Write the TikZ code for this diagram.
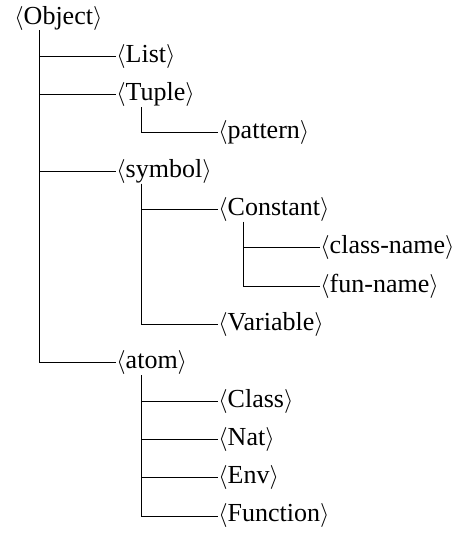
\documentclass[tikz,border=0pt]{standalone}
\usepackage{fontspec}
\setmainfont{Liberation Serif}
\usetikzlibrary{positioning}

\newcommand{\nt}[1]{$\langle$#1$\rangle$}

\begin{document}
\begin{tikzpicture}[every node/.style={inner sep=0pt,font=\fontsize{13}{15}\selectfont},
  branch/.style={draw,to path={([xshift=12.5pt]\tikztostart.south west) |- (\tikztotarget.west)}},
  node distance=19.15pt and 51pt]
\useasboundingbox (0,0) rectangle (234pt,-266.5pt);
\node[anchor=west] (obj) at (7pt,-9pt) {\nt{Object}};
\node[below right=of obj.west,anchor=west] (list) {\nt{List}};
\node[below=of list.west,anchor=west] (tuple) {\nt{Tuple}};
\node[below right=of tuple.west,anchor=west] (pattern) {\nt{pattern}};
\node[below left=of pattern.west,anchor=west] (symbol) {\nt{symbol}};
\node[below right=of symbol.west,anchor=west] (const) {\nt{Constant}};
\node[below right=of const.west,anchor=west] (classname) {\nt{class-name}};
\node[below=of classname.west,anchor=west] (funname) {\nt{fun-name}};
\node[below left=of funname.west,anchor=west] (var) {\nt{Variable}};
\node[below left=of var.west,anchor=west] (atom) {\nt{atom}};
\node[below right=of atom.west,anchor=west] (class) {\nt{Class}};
\node[below=of class.west,anchor=west] (nat) {\nt{Nat}};
\node[below=of nat.west,anchor=west] (env) {\nt{Env}};
\node[below=of env.west,anchor=west] (fun) {\nt{Function}};
% the tree lines
\path (obj) edge[branch] (list) edge[branch] (tuple) edge[branch] (symbol) edge[branch] (atom);
\path (tuple) edge[branch] (pattern);
\path (symbol) edge[branch] (const) edge[branch] (var);
\path (const) edge[branch] (classname) edge[branch] (funname);
\path (atom) edge[branch] (class) edge[branch] (nat) edge[branch] (env) edge[branch] (fun);
\end{tikzpicture}
\end{document}
